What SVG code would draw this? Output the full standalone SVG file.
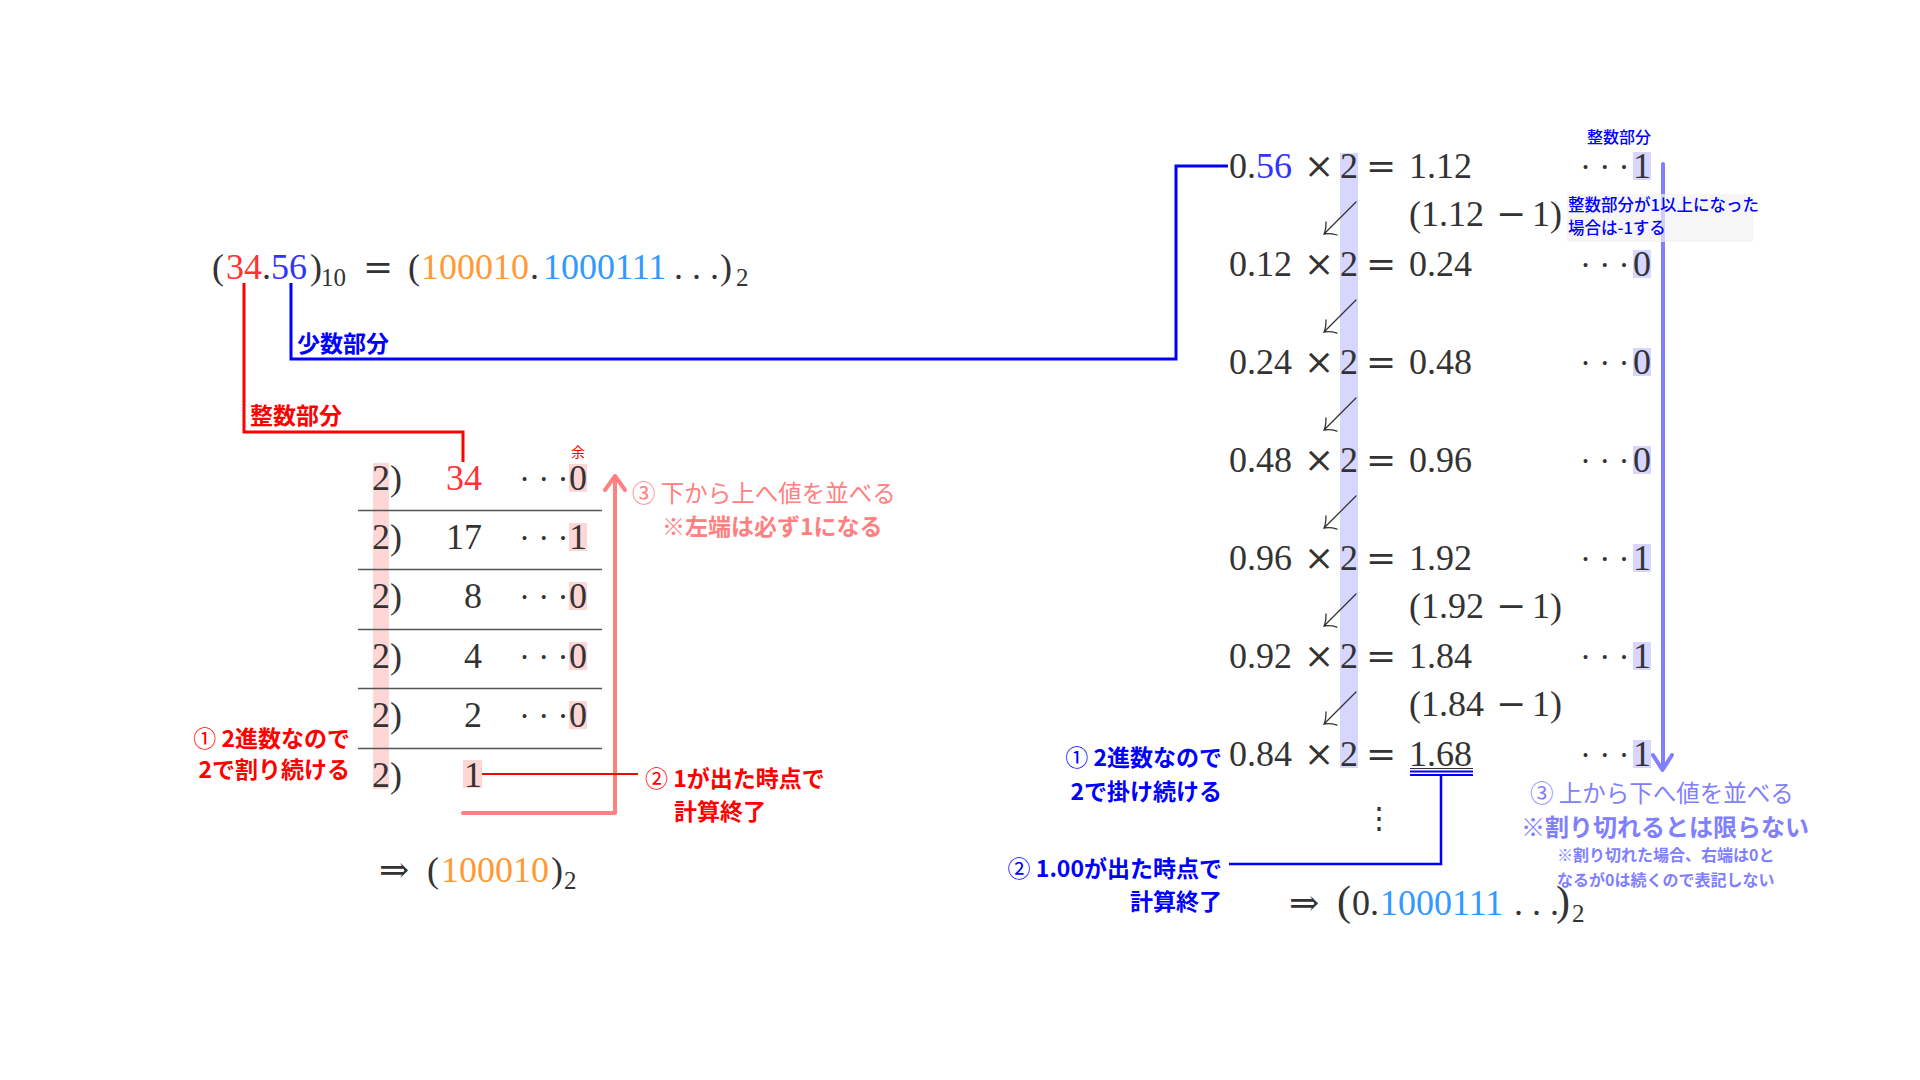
<svg xmlns="http://www.w3.org/2000/svg" width="1920" height="1080" viewBox="0 0 1920 1080">
<style>
.m{font-family:"Liberation Serif",serif;font-size:36px;fill:#333}
.s{font-family:"DejaVu Serif",serif;font-size:36px;fill:#333}
.sub{font-family:"Liberation Serif",serif;font-size:25px;fill:#333}
.dots{font-family:"Liberation Serif",serif;font-size:33px;fill:#333}
.j{font-family:"Noto Sans CJK JP",sans-serif;font-size:23px}
.b{font-weight:700}
.r{font-weight:400}
.red{fill:#ff0000}
.blue{fill:#0000ff}
.pink{fill:#ff8080}
.lav{fill:#8080ff}
.cr{fill:#ff3333}
.cb{fill:#3333ff}
.co{fill:#ff9933}
.cl{fill:#3399ff}
.hp{fill:#ffd6d6}
.hb{fill:#d6d6ff}
.rule{stroke:#555;stroke-width:1.5}
.arr{fill:none;stroke:#333;stroke-width:1.3;stroke-linecap:round}
</style>

<g id="connectors" fill="none">
<path id="int-line" d="M244 283 V432 H463 V462" stroke="#ff0000" stroke-width="3"/>
<path id="frac-line" d="M291 283 V359 H1176 V166 H1228" stroke="#0000ff" stroke-width="3"/>
<path id="left-up-arrow" d="M463 813 H615 V478 M605 490 L615 476 L625 490" stroke="#ff8080" stroke-width="4" stroke-linecap="round" stroke-linejoin="round"/>
<path id="left-end-line" d="M482 774 H638" stroke="#ff0000" stroke-width="2"/>
<path id="right-down-arrow" d="M1663 164 V768 M1653 755 L1662.5 770 L1672 755" stroke="#8080ff" stroke-width="4" stroke-linecap="round" stroke-linejoin="round"/>
<path id="right-end-line" d="M1441 774 V864 H1229" stroke="#0000ff" stroke-width="2.5"/>
</g>

<g id="equation">
<text class="m" y="279"><tspan x="212">(</tspan><tspan x="226" class="cr">34</tspan><tspan x="262">.</tspan><tspan x="271" class="cb">56</tspan><tspan x="310">)</tspan></text>
<text class="sub" x="321" y="286">10</text>
<text class="s" x="363" y="279">=</text>
<text class="m" y="279"><tspan x="408">(</tspan><tspan x="421" class="co">100010</tspan><tspan x="530">.</tspan><tspan x="543" class="cl">1000111</tspan></text>
<text class="m" x="674" y="279" xml:space="preserve">. . .</text>
<text class="m" x="720" y="279">)</text>
<text class="sub" x="736" y="286">2</text>
</g>

<g id="label-int"><text class="j b red" x="250" y="424">整数部分</text></g>
<g id="label-frac"><text class="j b blue" x="297" y="352">少数部分</text></g>

<g id="division-table">
<rect class="hp" x="373" y="463" width="16" height="326"/>
<line class="rule" x1="358" y1="510.5" x2="602" y2="510.5"/>
<line class="rule" x1="358" y1="569.5" x2="602" y2="569.5"/>
<line class="rule" x1="358" y1="629.5" x2="602" y2="629.5"/>
<line class="rule" x1="358" y1="688.5" x2="602" y2="688.5"/>
<line class="rule" x1="358" y1="748.5" x2="602" y2="748.5"/>
<rect class="hp" x="569" y="464" width="18" height="28"/>
<rect class="hp" x="569" y="523" width="18" height="28"/>
<rect class="hp" x="569" y="582" width="18" height="28"/>
<rect class="hp" x="569" y="642" width="18" height="28"/>
<rect class="hp" x="569" y="701" width="18" height="28"/>
<rect class="hp" x="463" y="760" width="19" height="28"/>
<text style="font-family:'Noto Sans CJK JP',sans-serif;font-size:14px" class="red" x="571" y="457">余</text>
<g class="m">
<text x="372" y="490">2)</text><text x="372" y="549">2)</text><text x="372" y="608">2)</text><text x="372" y="668">2)</text><text x="372" y="727">2)</text><text x="372" y="787">2)</text>
<text x="482" y="490" text-anchor="end" class="cr">34</text>
<text x="482" y="549" text-anchor="end">17</text>
<text x="482" y="608" text-anchor="end">8</text>
<text x="482" y="668" text-anchor="end">4</text>
<text x="482" y="727" text-anchor="end">2</text>
<text x="482" y="787" text-anchor="end">1</text>
<text x="569" y="490">0</text><text x="569" y="549">1</text><text x="569" y="608">0</text><text x="569" y="668">0</text><text x="569" y="727">0</text>
</g>
<g class="dots">
<text x="519" y="490" xml:space="preserve">· · ·</text>
<text x="519" y="549" xml:space="preserve">· · ·</text>
<text x="519" y="608" xml:space="preserve">· · ·</text>
<text x="519" y="668" xml:space="preserve">· · ·</text>
<text x="519" y="727" xml:space="preserve">· · ·</text>
</g>
</g>

<g id="left-notes">
<text class="j pink r" x="632" y="502" style="font-size:23.5px">③ 下から上へ値を並べる</text>
<text class="j pink b" x="662" y="535"><tspan class="r">※</tspan>左端は必ず1になる</text>
<text class="j red b" x="645" y="787"><tspan class="r">②</tspan> 1が出た時点で</text>
<text class="j red b" x="674" y="820">計算終了</text>
<text class="j red b" x="350" y="747" text-anchor="end"><tspan class="r">①</tspan> 2進数なので</text>
<text class="j red b" x="350" y="778" text-anchor="end">2で割り続ける</text>
</g>

<g id="left-result">
<text class="s" x="379" y="882">⇒</text>
<text class="m" y="882"><tspan x="427">(</tspan><tspan x="441" class="co">100010</tspan><tspan x="551">)</tspan></text>
<text class="sub" x="564" y="889">2</text>
</g>

<g id="multiply-table">
<rect class="hb" x="1340" y="153" width="18" height="615"/>
<rect class="hb" x="1633" y="152" width="18" height="28"/>
<rect class="hb" x="1633" y="250" width="18" height="28"/>
<rect class="hb" x="1633" y="348" width="18" height="28"/>
<rect class="hb" x="1633" y="446" width="18" height="28"/>
<rect class="hb" x="1633" y="544" width="18" height="28"/>
<rect class="hb" x="1633" y="642" width="18" height="28"/>
<rect class="hb" x="1633" y="740" width="18" height="28"/>
<g class="m">
<text y="178"><tspan x="1229">0.</tspan><tspan class="cb">56</tspan></text>
<text x="1229" y="276">0.12</text>
<text x="1229" y="374">0.24</text>
<text x="1229" y="472">0.48</text>
<text x="1229" y="570">0.96</text>
<text x="1229" y="668">0.92</text>
<text x="1229" y="766">0.84</text>
<text x="1340" y="178">2</text><text x="1340" y="276">2</text><text x="1340" y="374">2</text><text x="1340" y="472">2</text><text x="1340" y="570">2</text><text x="1340" y="668">2</text><text x="1340" y="766">2</text>
<text x="1409" y="178">1.12</text>
<text x="1409" y="276">0.24</text>
<text x="1409" y="374">0.48</text>
<text x="1409" y="472">0.96</text>
<text x="1409" y="570">1.92</text>
<text x="1409" y="668">1.84</text>
<text x="1409" y="766">1.68</text>
<text x="1633" y="178">1</text><text x="1633" y="276">0</text><text x="1633" y="374">0</text><text x="1633" y="472">0</text><text x="1633" y="570">1</text><text x="1633" y="668">1</text><text x="1633" y="766">1</text>
<text x="1409" y="226">(1.12</text><text x="1532" y="226">1)</text>
<text x="1409" y="618">(1.92</text><text x="1532" y="618">1)</text>
<text x="1409" y="716">(1.84</text><text x="1532" y="716">1)</text>
</g>
<g class="s">
<text x="1304" y="178">×</text><text x="1304" y="276">×</text><text x="1304" y="374">×</text><text x="1304" y="472">×</text><text x="1304" y="570">×</text><text x="1304" y="668">×</text><text x="1304" y="766">×</text>
<text x="1366" y="178">=</text><text x="1366" y="276">=</text><text x="1366" y="374">=</text><text x="1366" y="472">=</text><text x="1366" y="570">=</text><text x="1366" y="668">=</text><text x="1366" y="766">=</text>
<text x="1496" y="226">−</text><text x="1496" y="618">−</text><text x="1496" y="716">−</text>
</g>
<g class="dots">
<text x="1580" y="178" xml:space="preserve">· · ·</text>
<text x="1580" y="276" xml:space="preserve">· · ·</text>
<text x="1580" y="374" xml:space="preserve">· · ·</text>
<text x="1580" y="472" xml:space="preserve">· · ·</text>
<text x="1580" y="570" xml:space="preserve">· · ·</text>
<text x="1580" y="668" xml:space="preserve">· · ·</text>
<text x="1580" y="766" xml:space="preserve">· · ·</text>
</g>
<g class="arr">
<path d="M1356 202 L1324 234 M1326 222 Q1326 230 1324 234 Q1330 233 1337 235"/>
<path d="M1356 300 L1324 332 M1326 320 Q1326 328 1324 332 Q1330 331 1337 333"/>
<path d="M1356 398 L1324 430 M1326 418 Q1326 426 1324 430 Q1330 429 1337 431"/>
<path d="M1356 496 L1324 528 M1326 516 Q1326 524 1324 528 Q1330 527 1337 529"/>
<path d="M1356 594 L1324 626 M1326 614 Q1326 622 1324 626 Q1330 625 1337 627"/>
<path d="M1356 692 L1324 724 M1326 712 Q1326 720 1324 724 Q1330 723 1337 725"/>
</g>
<line x1="1410" y1="768.5" x2="1473" y2="768.5" stroke="#333" stroke-width="1.2"/>
<line x1="1410" y1="771.5" x2="1473" y2="771.5" stroke="#0000ff" stroke-width="2"/>
<line x1="1410" y1="775" x2="1473" y2="775" stroke="#0000ff" stroke-width="2"/>
<text class="s" x="1364" y="828" style="font-size:30px">⋮</text>
</g>

<g id="right-notes">
<text style="font-family:'Noto Sans CJK JP',sans-serif;font-size:16px;font-weight:500" class="blue" x="1587" y="143">整数部分</text>
<rect x="1567" y="194" width="186" height="48" fill="#f2f2f2" fill-opacity="0.7"/>
<text style="font-family:'Noto Sans CJK JP',sans-serif;font-size:16.5px;font-weight:500" class="blue" x="1568" y="211">整数部分が1以上になった</text>
<text style="font-family:'Noto Sans CJK JP',sans-serif;font-size:16.5px;font-weight:500" class="blue" x="1568" y="234">場合は-1する</text>
<text class="j blue b" x="1222" y="766" text-anchor="end"><tspan class="r">①</tspan> 2進数なので</text>
<text class="j blue b" x="1222" y="800" text-anchor="end">2で掛け続ける</text>
<text class="j blue b" x="1222" y="877" text-anchor="end"><tspan class="r">②</tspan> 1.00が出た時点で</text>
<text class="j blue b" x="1222" y="910" text-anchor="end">計算終了</text>
<text class="j lav r" x="1530" y="802" style="font-size:23.5px">③ 上から下へ値を並べる</text>
<text class="j lav b" x="1521" y="836" style="font-size:24px"><tspan class="r">※</tspan>割り切れるとは限らない</text>
<text class="lav" style="font-family:'Noto Sans CJK JP',sans-serif;font-size:16px;font-weight:700" x="1557" y="861">※割り切れた場合、右端は0と</text>
<text class="lav" style="font-family:'Noto Sans CJK JP',sans-serif;font-size:16px;font-weight:700" x="1557" y="886">なるが0は続くので表記しない</text>
</g>

<g id="right-result">
<text class="s" x="1289" y="915">⇒</text>
<text class="m" y="915"><tspan x="1337" style="font-size:42px">(</tspan><tspan x="1352">0.</tspan><tspan x="1380" class="cl">1000111</tspan></text>
<text class="m" x="1514" y="915" xml:space="preserve">. . .</text>
<text class="m" x="1556" y="915" style="font-size:42px">)</text>
<text class="sub" x="1572" y="922">2</text>
</g>
</svg>
